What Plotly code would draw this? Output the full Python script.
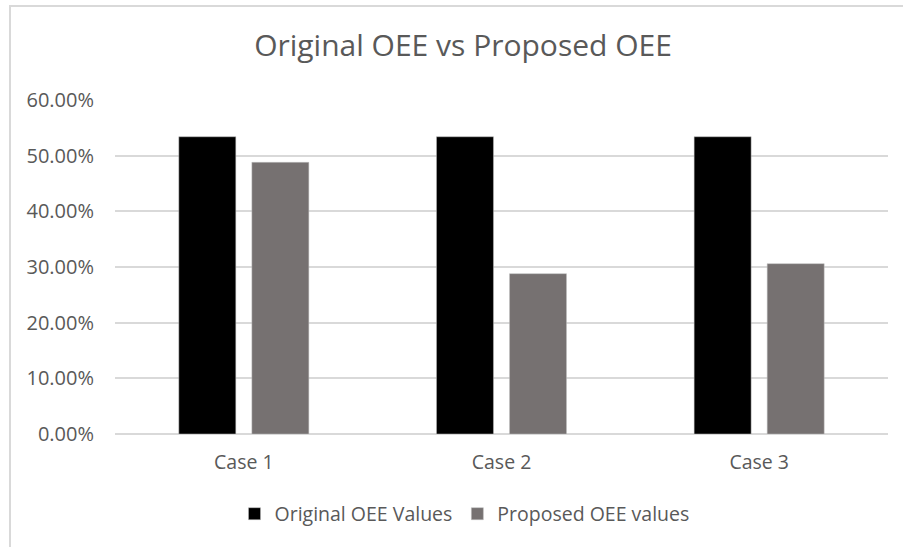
import plotly.graph_objects as go

categories = ["Case 1", "Case 2", "Case 3"]
original_oee = [0.534, 0.534, 0.534]
proposed_oee = [0.488, 0.288, 0.306]
tick_vals = [0, 0.1, 0.2, 0.3, 0.4, 0.5, 0.6]
tick_text = ["0.00%", "10.00%", "20.00%", "30.00%", "40.00%", "50.00%", "60.00%"]

W, H = 903, 547
L, R, T, B = 115, 15, 100, 113
pw, ph = W - L - R, H - T - B

FONT = "Open Sans"
TXT = "#595959"

fig = go.Figure()
fig.add_trace(go.Bar(x=categories, y=original_oee, name="Original OEE Values",
                     marker=dict(color="#000000", line=dict(color="#bfbfbf", width=0.5))))
fig.add_trace(go.Bar(x=categories, y=proposed_oee, name="Proposed OEE values",
                     marker=dict(color="#767171", line=dict(color="#bfbfbf", width=0.5))))

# outer chart border (left and top visible)
fig.add_shape(type="rect", xref="paper", yref="paper",
              x0=(10 - L) / pw, x1=(W + 20 - L) / pw,
              y0=(H - B - (H + 20)) / ph, y1=(H - B - 6) / ph,
              line=dict(color="#d9d9d9", width=2), fillcolor="rgba(0,0,0,0)", layer="below")

fig.update_layout(
    width=W, height=H,
    margin=dict(l=L, r=R, t=T, b=B),
    paper_bgcolor="white", plot_bgcolor="white",
    barmode="group", bargap=0.433, bargroupgap=0.22,
    title=dict(text="Original OEE vs Proposed OEE", x=463 / W, xanchor="center",
               y=1 - 45 / H, yanchor="middle",
               font=dict(family=FONT, size=30, color=TXT)),
    font=dict(family=FONT, color=TXT),
    showlegend=True,
    legend=dict(orientation="h", x=0.5 - 37 / pw, xanchor="center", y=(H - B - 514) / ph,
                yanchor="middle",
                font=dict(family=FONT, size=19.5, color=TXT), itemwidth=30, traceorder="normal"),
    xaxis=dict(showgrid=False, showline=False, ticks="", ticklabelstandoff=14,
               tickfont=dict(size=19.5, color=TXT)),
    yaxis=dict(range=[0, 0.6], tickvals=tick_vals, ticktext=tick_text, showgrid=True,
               gridcolor="#d9d9d9", gridwidth=2, zeroline=True, zerolinecolor="#d9d9d9",
               zerolinewidth=2, showline=False, ticks="", ticklabelstandoff=20,
               tickfont=dict(size=20, color=TXT)),
)

fig.write_html("out.html")
